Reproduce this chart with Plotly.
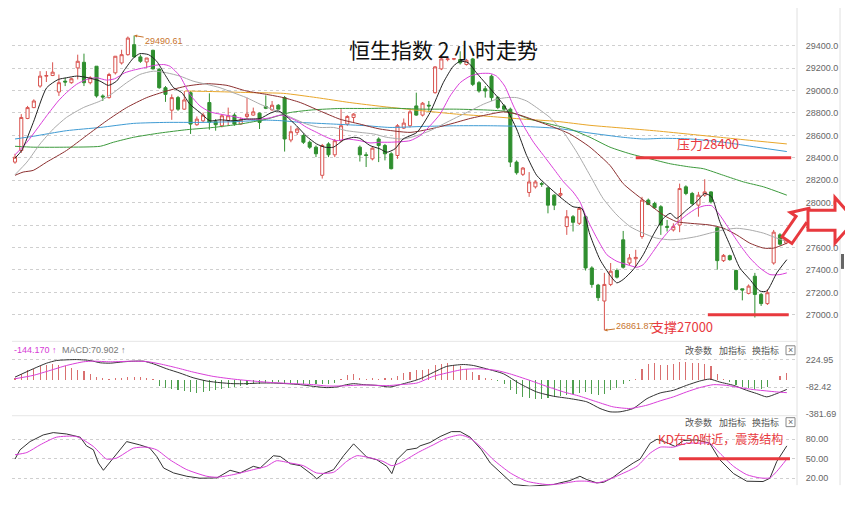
import math
import plotly.graph_objects as go

# ---------------- data ----------------
open_ = [28362,28465,28751,28848,29040,29128,29134,28987,29084,29070,29202,29252,29070,29217,28952,28937,29158,29246,29320,29409,
         29300,29255,29359,29188,29025,28825,28937,28834,28981,28695,28730,28893,28722,28686,28730,28781,28701,28769,28781,28798,
         28857,28828,28869,28937,28559,28627,28598,28539,28495,28244,28524,28427,28553,28701,28760,28495,28427,28391,28568,28510,
         28436,28421,28665,28686,28863,28781,28869,28981,29193,29276,29280,29276,29232,29282,29070,29016,29128,28937,28863,28834,
         28362,28253,28091,28141,28170,28132,28067,28067,27787,27875,27816,27875,27418,27265,27123,27271,27395,27669,27462,27500,
         27698,28023,27993,27964,27787,27757,27801,28141,28082,27978,28067,28096,27777,27483,27527,27395,27232,27191,27344,27182,
         27100,27462,27713,27640]
high = [28436,28790,28863,28922,29173,29173,29252,29143,29114,29114,29320,29329,29128,29217,28966,29158,29306,29364,29482,29490.61,
        29320,29291,29364,29202,29040,28966,28952,28996,28996,28769,28804,28975,28745,28790,28848,28798,28760,28937,28848,28804,
        28957,28907,28878,28952,28686,28671,28613,28554,28510,28524,28539,28568,28834,28780,28798,28510,28450,28495,28583,28524,
        28450,28701,28751,28834,28981,28898,28907,29217,29291,29300,29290,29350,29282,29291,29084,29040,29143,28952,28878,28848,
        28377,28318,28273,28200,28185,28141,28076,28132,27934,27890,27964,27890,27433,27276,27374,27462,27413,27748,27542,27580,
        28052,28037,28008,27978,27846,27816,28170,28155,28096,28096,28209,28102,27787,27542,27536,27403,27232,27271,27374,27197,
        27227,27757,27728,27700]
low = [28347,28444,28745,28843,29025,29076,29129,28952,29040,29061,29099,29040,29055,28937,28907,28928,29143,29232,29311,29291,
       29247,29202,29188,29016,28899,28739,28819,28828,28613,28686,28716,28651,28642,28671,28686,28686,28695,28745,28775,28657,
       28834,28819,28834,28456,28539,28604,28524,28480,28406,28215,28406,28406,28539,28686,28716,28367,28318,28377,28362,28377,
       28297,28391,28657,28671,28775,28769,28819,28972,29182,29261,29270,29232,29223,29040,28981,28937,28907,28834,28819,28318,
       28250,28238,28052,28126,28141,27905,27934,28052,27713,27743,27801,27395,27241,27123,26861.87,27256,27324,27412,27442,27433,
       27678,27978,27949,27713,27743,27743,27737,28067,27978,27875,28052,27993,27403,27471,27483,27218,27129,27182,26976,27079,
       27088,27447,27619,27630]
close = [28406,28760,28848,28907,29129,29134,29164,29070,29076,29105,29261,29070,29114,28952,28943,29143,29306,29320,29468,29300,
         29261,29290,29193,29025,28966,28937,28834,28916,28701,28745,28781,28716,28695,28775,28775,28701,28739,28790,28810,28716,
         28842,28869,28834,28568,28633,28657,28539,28495,28436,28510,28427,28553,28686,28769,28790,28427,28421,28486,28510,28436,
         28303,28686,28710,28810,28781,28887,28863,29211,29282,29282,29284,29247,29270,29055,28996,28996,28937,28848,28834,28362,
         28267,28309,28185,28185,28165,27978,27978,28082,27875,27825,27949,27418,27271,27153,27271,27389,27336,27424,27507,27512,
         28023,27984,27954,27801,27781,27787,28126,28082,27993,28067,28096,28008,27483,27530,27492,27227,27221,27256,27182,27100,
         27197,27737,27630,27680]
candles = list(range(len(close)))

ma5_x = [0,1.06,2.92,5.05,6.91,8.24,9.84,11.7,13.56,14.89,16.2,17.5,18.9,19.9,21.3,22.6,23.9,25.3,26.6,27.9,
         29.5,31.1,32.7,34.8,36.9,39.1,40.7,42.0,43.3,44.9,46.5,48.1,49.4,50.8,52.4,54.0,55.0,56.6,58.2,59.3,
         60.6,61.9,64.1,66.2,68.3,69.9,71.0,72.3,73.6,75.2,76.8,78.4,80.0,81.6,83.2,84.8,86.9,89.0,90.4,91.7,
         93.3,95.0,96.0,97.0,98.6,100.2,101.8,103.4,104.5,105.5,107.1,108.7,110.0,111.1,112.4,114.0,115.6,117.2,118.8,119.9,
         121.5,123.1]
ma5_y = [28397,28465,28716,29025,29099,29114,29129,29114,29084,29046,29084,29188,29291,29329,29320,29261,29143,29025,28981,28878,
         28804,28730,28739,28730,28745,28751,28798,28819,28769,28686,28592,28524,28495,28495,28559,28583,28574,28510,28480,28450,
         28480,28568,28627,28804,29070,29217,29261,29247,29158,29055,28952,28834,28657,28421,28244,28156,28052,27964,27949,27713,
         27492,27345,27285,27315,27403,27536,27713,27860,27905,27860,27934,28008,28082,28052,27831,27625,27418,27315,27212,27212,
         27374,27492]
ma10_x = [0,1.9,3.5,5.05,6.9,8.2,9.8,11.4,13.0,14.6,15.9,17.5,18.9,20.5,22.1,23.7,24.7,26.3,27.9,29.5,
          31.1,32.7,34.8,36.9,39.1,40.7,42.3,43.3,44.9,46.5,48.1,49.7,51.3,52.9,55.0,56.6,58.2,59.8,63.0,64.6,
          66.2,67.8,69.4,71.0,72.6,74.2,75.8,76.8,78.1,79.5,81.1,82.7,84.3,85.9,87.5,89.0,90.1,91.2,92.8,94.4,
          96.0,97.6,99.2,100.2,101.8,102.9,104.2,105.5,107.1,108.7,110.0,111.1,112.4,114.0,115.6,117.2,118.8,120.4,122.0,123.1]
ma10_y = [28427,28539,28657,28775,28907,28981,29055,29099,29114,29093,29105,29158,29182,29202,29223,29232,29217,29129,28966,28863,
          28810,28790,28769,28745,28745,28757,28781,28769,28730,28672,28627,28583,28553,28568,28553,28533,28539,28539,28553,28598,
          28686,28790,28952,29070,29129,29152,29152,29129,29040,28863,28686,28539,28421,28303,28185,28096,28008,27860,27684,27536,
          27477,27448,27424,27448,27566,27654,27743,27816,27890,27949,27973,27973,27890,27757,27625,27507,27418,27359,27359,27374]
ma20_x = [0,1.9,4.0,6.1,8.2,10.9,13.6,15.7,17.8,19.9,22.1,24.2,26.3,28.4,30.6,32.7,34.8,36.9,39.1,40.7,
          42.3,44.4,46.5,48.6,50.8,52.9,55.0,57.2,59.3,61.9,64.1,66.2,68.3,70.4,72.6,74.7,76.8,78.4,80.0,81.6,
          83.2,85.3,87.5,89.6,91.7,93.8,96.0,98.1,100.2,102.3,104.5,106.6,108.7,110.8,113.0,115.1,117.2,119.4,121.5,123.1]
ma20_y = [28250,28362,28524,28657,28760,28848,28907,28981,29070,29143,29173,29158,29129,29084,29055,29025,28981,28937,28878,28840,
          28804,28751,28701,28671,28671,28642,28627,28613,28583,28568,28598,28642,28701,28760,28819,28878,28922,28937,28937,28907,
          28848,28760,28627,28450,28244,28037,27890,27787,27728,27684,27669,27678,27698,27728,27757,27772,27757,27728,27684,27654]
ma30_x = [0,1.3,2.9,5.05,8.2,11.4,14.6,17.8,21.0,24.2,27.4,30.6,33.8,36.9,40.1,42.8,45.5,48.6,51.8,55.0,
          58.2,63.0,66.2,69.4,72.6,75.8,77.9,80.0,82.1,85.3,88.5,91.7,94.9,97.0,99.2,101.3,103.4,105.5,107.7,110.8,
          113.0,115.1,117.2,119.4,121.0,123.1]
ma30_y = [28244,28273,28288,28362,28465,28598,28730,28848,28937,28996,29040,29061,29046,28996,28966,28937,28893,28819,28745,28701,
          28657,28627,28657,28701,28751,28790,28810,28790,28751,28686,28613,28495,28332,28170,28067,27978,27890,27831,27816,27801,
          27772,27713,27639,27595,27595,27639]
ma60_x = [0,2.9,8.2,13.6,15.7,18.9,23.1,27.4,31.6,35.9,40.1,43.9,47.6,51.8,56.1,59.8,65.1,70.4,75.8,78.9,
          82.1,85.3,88.5,91.7,94.9,98.1,101.3,104.5,107.7,109.8,113.0,116.2,119.4,123.1]
ma60_y = [28503,28495,28495,28503,28539,28583,28621,28651,28671,28701,28745,28804,28828,28840,28840,28843,28834,28834,28825,28810,
          28745,28701,28657,28583,28495,28436,28391,28347,28318,28303,28244,28185,28141,28067]
ma120_x = [0,2.9,8.2,13.6,18.9,24.2,29.5,34.8,40.1,42.8,45.5,50.8,56.1,59.8,65.1,70.4,75.8,81.1,86.4,91.7,
           97.0,100.2,103.4,107.7,113.0,118.3,123.1]
ma120_y = [28568,28592,28642,28671,28707,28716,28716,28722,28736,28730,28716,28701,28686,28671,28680,28686,28686,28680,28663,28621,
           28583,28568,28574,28568,28539,28495,28456]
ma250_x = [27.1,32.2,38.0,42.8,48.1,53.4,58.7,65.1,70.4,75.8,81.1,86.4,91.7,97.0,102.3,107.7,113.0,118.3,123.1]
ma250_y = [28996,28990,28981,28975,28937,28893,28857,28819,28790,28769,28745,28725,28690,28665,28640,28610,28580,28550,28524]

macd_hist = [20,66,103,121,147,169,176,169,147,129,110,92,59,29,15,11,15,22,26,29,
             26,18,7,-74,-88,-107,-118,-129,-136,-147,-140,-129,-118,-107,-96,-81,-70,-55,-44,-44,
             -33,-33,-26,-37,-44,-44,-44,-48,-51,-44,-44,-33,11,48,59,22,7,15,7,15,
             18,37,74,85,103,110,121,158,176,184,169,147,121,85,48,15,7,-18,-44,-110,
             -162,-191,-202,-210,-210,-202,-191,-184,-173,-154,-147,-136,-154,-173,-154,-118,-88,-44,-11,11,
             121,176,184,169,158,176,195,195,184,184,176,147,59,11,-26,-63,-81,-88,-99,-99,
             -81,-7,37,74]
dif_x = [0,2.9,5.05,6.6,9.8,12.0,13.6,15.2,17.3,18.9,20.5,22.1,24.2,26.3,28.4,30.6,32.7,34.8,36.9,39.1,
         41.2,43.3,45.5,47.6,49.7,51.3,52.9,54.0,55.6,57.7,59.8,61.4,63.5,64.6,66.7,68.8,71.5,73.1,75.2,77.9,
         80.5,83.2,85.9,88.5,91.2,93.3,94.9,96.5,98.6,100.8,102.9,105.0,107.1,109.2,110.8,112.4,114.6,116.7,118.3,119.9,
         121.5,123.1]
dif_y = [29,121,184,213,224,213,188,184,199,206,206,176,121,74,22,-15,-33,-44,-44,-37,
         -37,-44,-55,-74,-88,-81,-55,-44,-55,-63,-81,-55,-15,10,80,147,169,158,121,66,
         -44,-136,-184,-210,-246,-320,-357,-357,-320,-210,-147,-118,-63,-15,7,-26,-63,-118,-154,-191,
         -154,-108]
dea_x = [0,2.9,5.6,8.2,10.9,12.5,15.2,18.9,21.0,23.1,25.8,28.4,31.6,34.8,38.0,41.2,44.4,47.6,49.7,51.8,
         54.0,56.1,59.3,61.4,64.1,66.7,68.8,71.5,74.2,76.8,78.9,82.1,84.8,87.5,90.1,92.8,95.4,98.1,100.8,102.9,
         105.0,107.1,109.2,111.4,113.5,115.6,117.8,119.9,121.5,123.1]
dea_y = [11,48,103,158,199,206,199,206,202,176,132,85,37,7,-15,-33,-44,-55,-70,-70,
         -63,-59,-66,-55,-37,37,74,114,121,103,66,-7,-74,-136,-184,-246,-302,-320,-283,-235,
         -191,-136,-88,-55,-63,-88,-110,-125,-136,-144]

k_x = [0,0.8,2.4,4.5,6.1,8.2,10.4,11.4,12.5,13.3,14.1,15.7,17.8,19.9,21.5,22.6,23.7,25.3,27.4,29.5,
       32.2,34.3,35.9,38.0,39.1,41.2,42.3,43.9,45.5,47.6,48.1,49.2,50.8,52.4,54.0,56.1,57.7,59.3,60.1,60.9,
       62.5,64.1,64.6,66.2,67.8,69.6,71.0,72.6,74.4,75.8,78.0,79.5,82.1,85.9,86.9,88.5,90.1,91.2,92.8,93.9,
       95.4,97.0,98.6,99.7,101.3,102.4,103.9,105.3,106.6,108.7,110.8,112.4,114.6,116.7,119.3,120.4,121.5,123.1]
k_y = [49.5,63.7,76.4,86.6,90.2,88.1,83.1,69.8,63.7,43.4,32.2,51.0,76.4,71.3,66.3,53.5,35.7,28.1,23.0,20.0,
       20.5,32.2,28.1,38.3,35.7,54.6,53.5,42.3,39.3,24.0,18.9,27.1,33.2,54.6,72.9,52.5,48.4,38.3,27.1,48.4,
       63.7,66.3,69.8,74.9,84.1,91.7,91.7,83.1,63.7,43.4,24.0,10.3,7.7,10.3,12.8,16.4,23.0,17.9,12.8,13.8,
       21.5,33.2,43.4,49.5,73.9,80.0,74.9,68.8,78.0,79.0,73.9,48.4,27.1,15.4,14.9,20.0,45.9,69.8]
d_x = [0,1.9,4.0,6.6,9.8,12.5,14.6,16.2,18.9,21.0,22.6,24.7,27.4,30.6,32.2,34.8,38.0,40.1,41.7,43.9,
       46.0,48.1,50.8,52.9,54.5,56.6,58.7,60.1,61.4,64.1,64.6,66.7,68.8,71.0,72.6,74.2,76.3,79.0,81.6,84.8,
       86.9,89.6,91.2,92.8,94.4,96.5,99.2,101.3,102.9,105.0,107.1,109.2,110.8,112.4,114.6,116.7,118.8,120.4,121.5,123.1]
d_y = [56.1,59.6,71.3,83.1,84.1,68.8,49.5,51.0,66.3,67.8,63.7,48.4,33.2,23.0,21.5,25.5,33.2,38.3,46.9,43.4,
       39.3,28.1,29.1,45.9,54.6,51.5,45.9,39.3,43.4,58.6,61.2,71.3,81.5,86.6,81.5,68.8,48.4,28.1,15.4,10.3,
       11.3,15.4,15.4,12.8,16.9,25.5,38.3,58.6,67.8,67.8,73.9,73.9,73.9,58.6,38.3,25.5,20.5,20.5,30.6,49.5]

price_ticks = [27000, 27200, 27400, 27600, 27800, 28000, 28200, 28400, 28600, 28800, 29000, 29200, 29400]
macd_ticks = [224.95, -82.42, -381.69]
kd_ticks = [80, 50, 20]
resistance = 28400
support = 27000
kd_mid = 50

# ---------------- layout helpers (screen px -> paper) ----------------
OFF = 8                      # page body margin
W, H = 845, 501              # figure size so that it fits the 853x509 window
ML, MR = 4, 56               # plot area: screen x 12 .. 797
PW = W - ML - MR


def px(sx):
    return (sx - OFF - ML) / PW


def py(sy):
    return 1 - (sy - OFF) / H


RED = '#d9534f'
GRN = '#2f8f2f'
ANN_RED = '#e8393e'

fig = go.Figure()
fig.add_trace(go.Candlestick(
    x=candles, open=open_, high=high, low=low, close=close,
    increasing=dict(line=dict(color=RED, width=1), fillcolor='#ffffff'),
    decreasing=dict(line=dict(color=GRN, width=1), fillcolor=GRN),
    whiskerwidth=0, showlegend=False, hoverinfo='skip', xaxis='x', yaxis='y'))

for xs, ys, col in [(ma250_x, ma250_y, '#e8a62a'), (ma120_x, ma120_y, '#3f9bd3'), (ma60_x, ma60_y, '#3d9a3d'),
                    (ma30_x, ma30_y, '#8b2f2f'), (ma20_x, ma20_y, '#aaaaaa'), (ma10_x, ma10_y, '#d93fd9'),
                    (ma5_x, ma5_y, '#222222')]:
    fig.add_trace(go.Scatter(x=xs, y=ys, mode='lines', line=dict(color=col, width=1, shape='spline', smoothing=0.6),
                             showlegend=False, hoverinfo='skip', xaxis='x', yaxis='y'))

hist_cols = ['#d97070' if v >= 0 else '#4f9f4f' for v in macd_hist]
fig.add_trace(go.Bar(x=candles, y=macd_hist, marker=dict(color=hist_cols, line=dict(width=0)), width=0.18,
                     showlegend=False, hoverinfo='skip', xaxis='x2', yaxis='y2'))
fig.add_trace(go.Scatter(x=dif_x, y=dif_y, mode='lines', line=dict(color='#333333', width=1, shape='spline', smoothing=0.6),
                         showlegend=False, hoverinfo='skip', xaxis='x2', yaxis='y2'))
fig.add_trace(go.Scatter(x=dea_x, y=dea_y, mode='lines', line=dict(color='#d93fd9', width=1, shape='spline', smoothing=0.6),
                         showlegend=False, hoverinfo='skip', xaxis='x2', yaxis='y2'))
fig.add_trace(go.Scatter(x=k_x, y=k_y, mode='lines', line=dict(color='#333333', width=1),
                         showlegend=False, hoverinfo='skip', xaxis='x3', yaxis='y3'))
fig.add_trace(go.Scatter(x=d_x, y=d_y, mode='lines', line=dict(color='#d93fd9', width=1, shape='spline', smoothing=0.6),
                         showlegend=False, hoverinfo='skip', xaxis='x3', yaxis='y3'))

xr = [-0.48, 124.72]
xcommon = dict(range=xr, visible=False, showgrid=False, zeroline=False, fixedrange=True)
tickfont = dict(family='Liberation Sans, Arial', size=9, color='#666666')
ycommon = dict(side='right', showgrid=True, gridcolor='#cfcfcf', griddash='dot', gridwidth=1, zeroline=False,
               showline=False, ticks='outside', ticklen=6, tickcolor='rgba(0,0,0,0)', tickfont=tickfont, fixedrange=True)

fig.update_layout(
    width=W, height=H, margin=dict(l=ML, r=MR, t=0, b=0),
    paper_bgcolor='white', plot_bgcolor='white', showlegend=False, bargap=0,
    xaxis=dict(**xcommon, anchor='y', domain=[0, 1], rangeslider=dict(visible=False)),
    xaxis2=dict(**xcommon, anchor='y2', domain=[0, 1]),
    xaxis3=dict(**xcommon, anchor='y3', domain=[0, 1]),
    yaxis=dict(**ycommon, anchor='x', domain=[py(338), py(30)], range=[26816.8, 29541.5],
               tickvals=price_ticks, ticktext=[f'{v:.1f}' for v in price_ticks]),
    yaxis2=dict(**ycommon, anchor='x2', domain=[py(418), py(345)], range=[-389.4, 415.8],
                tickvals=macd_ticks, ticktext=[f'{v:.2f}' for v in macd_ticks]),
    yaxis3=dict(**ycommon, anchor='x3', domain=[py(490), py(422)], range=[7.8, 111.6],
                tickvals=kd_ticks, ticktext=[f'{v:.2f}' for v in kd_ticks]),
)

shapes = []
for yy in (344, 419):
    shapes.append(dict(type='line', xref='paper', yref='paper', x0=px(12), x1=px(797), y0=py(yy), y1=py(yy),
                       line=dict(color='#e6e6e6', width=1)))
for xx in (797, 840):
    shapes.append(dict(type='line', xref='paper', yref='paper', x0=px(xx), x1=px(xx), y0=py(8), y1=py(489),
                       line=dict(color='#e0e0e0', width=1)))
shapes.append(dict(type='rect', xref='paper', yref='paper', x0=px(841), x1=px(844), y0=py(271), y1=py(256),
                   fillcolor='#666666', line=dict(width=0)))
shapes.append(dict(type='line', xref='x', yref='y', x0=99.0, x1=123.8, y0=resistance, y1=resistance,
                   line=dict(color=ANN_RED, width=3)))
shapes.append(dict(type='line', xref='x', yref='y', x0=110.5, x1=123.4, y0=support, y1=support,
                   line=dict(color=ANN_RED, width=3)))
shapes.append(dict(type='line', xref='x3', yref='y3', x0=105.9, x1=123.6, y0=kd_mid, y1=kd_mid,
                   line=dict(color=ANN_RED, width=3)))
for yc in (353, 425.5):
    shapes.append(dict(type='rect', xref='paper', yref='paper', x0=px(786), x1=px(795), y0=py(yc + 4.5), y1=py(yc - 4.5),
                       line=dict(color='#888888', width=1), fillcolor='white'))


def arrow_path(tail, tip, sw, hw, hl):
    dx, dy = tip[0] - tail[0], tip[1] - tail[1]
    L = math.hypot(dx, dy)
    ux, uy = dx / L, dy / L
    nx, ny = -uy, ux
    bx, by = tip[0] - ux * hl, tip[1] - uy * hl
    pts = [(tail[0] + nx * sw, tail[1] + ny * sw), (bx + nx * sw, by + ny * sw), (bx + nx * hw, by + ny * hw),
           tip, (bx - nx * hw, by - ny * hw), (bx - nx * sw, by - ny * sw), (tail[0] - nx * sw, tail[1] - ny * sw)]
    return 'M ' + ' L '.join(f'{px(a):.5f},{py(b):.5f}' for a, b in pts) + ' Z'


shapes.append(dict(type='path', xref='paper', yref='paper', path=arrow_path((787, 242), (809, 210), 6, 13, 14),
                   line=dict(color=ANN_RED, width=3), fillcolor='white'))
shapes.append(dict(type='path', xref='paper', yref='paper', path=arrow_path((808, 222), (855, 222), 10, 23, 20),
                   line=dict(color=ANN_RED, width=3), fillcolor='white'))
fig.update_layout(shapes=shapes)

ann = []


def txt(x, y, s, size, color, family='Noto Sans CJK SC', xanchor='center'):
    ann.append(dict(xref='paper', yref='paper', x=px(x), y=py(y), text=s, showarrow=False, xanchor=xanchor,
                    yanchor='middle', font=dict(family=family, size=size, color=color)))


txt(443, 49, '恒生指数 2 小时走势', 21, '#111111')
txt(708, 145, '压力28400', 13, ANN_RED)
txt(682, 329, '支撑27000', 13, ANN_RED)
txt(720, 442, 'KD在50附近，震荡结构', 12, ANN_RED)
txt(12, 353, '-144.170 ↑', 9, '#d63bd6', 'Liberation Sans', 'left')
txt(60, 353, 'MACD:70.902 ↑', 9, '#777777', 'Liberation Sans', 'left')
for yc in (353, 425.5):
    txt(698.5, yc, '改参数', 9, '#555555')
    txt(732, yc, '加指标', 9, '#555555')
    txt(765, yc, '换指标', 9, '#555555')
    txt(790.5, yc, '×', 9, '#666666', 'Liberation Sans')

ann.append(dict(xref='x', yref='y', x=19, y=29490.61, text='29490.61', showarrow=True, arrowhead=2, arrowsize=0.6,
                arrowwidth=1, arrowcolor='#c8742e', ax=30, ay=5, font=dict(family='Liberation Sans', size=9, color='#c8742e')))
ann.append(dict(xref='x', yref='y', x=94, y=26861.87, text='26861.87', showarrow=True, arrowhead=2, arrowsize=0.6,
                arrowwidth=1, arrowcolor='#c8742e', ax=31, ay=-4, font=dict(family='Liberation Sans', size=9, color='#c8742e')))
fig.update_layout(annotations=ann)

fig.write_html('out.html', config=dict(displayModeBar=False, staticPlot=True))
